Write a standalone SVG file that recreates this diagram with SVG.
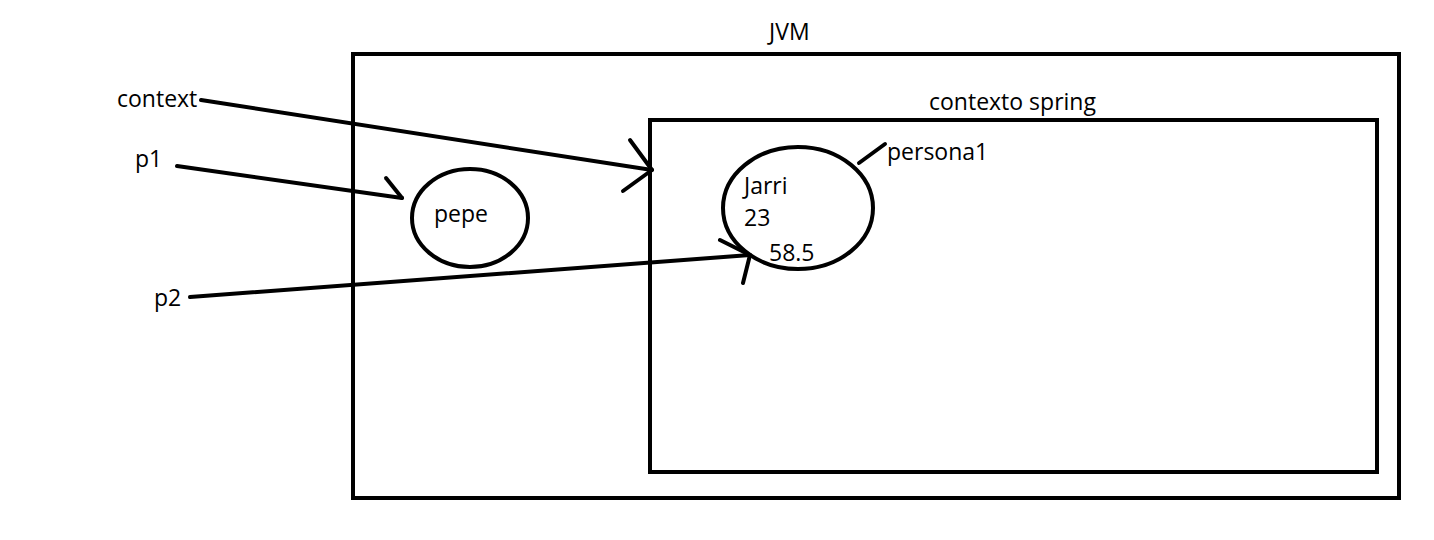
<svg xmlns="http://www.w3.org/2000/svg" width="1434" height="540" viewBox="0 0 1434 540">
<style>
.box{fill:none;stroke:#000;stroke-width:4}
.ln{fill:none;stroke:#000;stroke-width:4;stroke-linecap:round;stroke-linejoin:round}
text{font-family:"Open Sans","Noto Sans",sans-serif;font-size:23px;fill:#000}
</style>
<rect width="1434" height="540" fill="#fff"/>
<g id="jvm">
<rect class="box" x="353" y="54" width="1046" height="444"/>
<text x="769" y="40">JVM</text>
</g>
<g id="spring">
<rect class="box" x="650" y="120" width="727" height="352"/>
<text x="929" y="110">contexto spring</text>
</g>
<g id="pepe">
<ellipse class="box" cx="470" cy="218" rx="58" ry="49"/>
<text x="434" y="222">pepe</text>
</g>
<g id="persona1">
<ellipse class="box" cx="798" cy="208" rx="75" ry="61"/>
<text x="744" y="194">Jarri</text>
<text x="744" y="226">23</text>
<text x="769" y="261">58.5</text>
<line class="ln" x1="859" y1="163" x2="885" y2="144"/>
<text x="887" y="160">persona1</text>
</g>
<g id="labels">
<text x="117" y="107">context</text>
<text x="135" y="167">p1</text>
<text x="154" y="306">p2</text>
</g>
<g id="connectors">
<polyline class="ln" points="201,100 652,170"/>
<polyline class="ln" points="630,140 652,170 623,191"/>
<polyline class="ln" points="177,166 402,198"/>
<polyline class="ln" points="386,178 402,198"/>
<polyline class="ln" points="190,297 750,255"/>
<polyline class="ln" points="720,240 750,255 743,283"/>
</g>
</svg>
